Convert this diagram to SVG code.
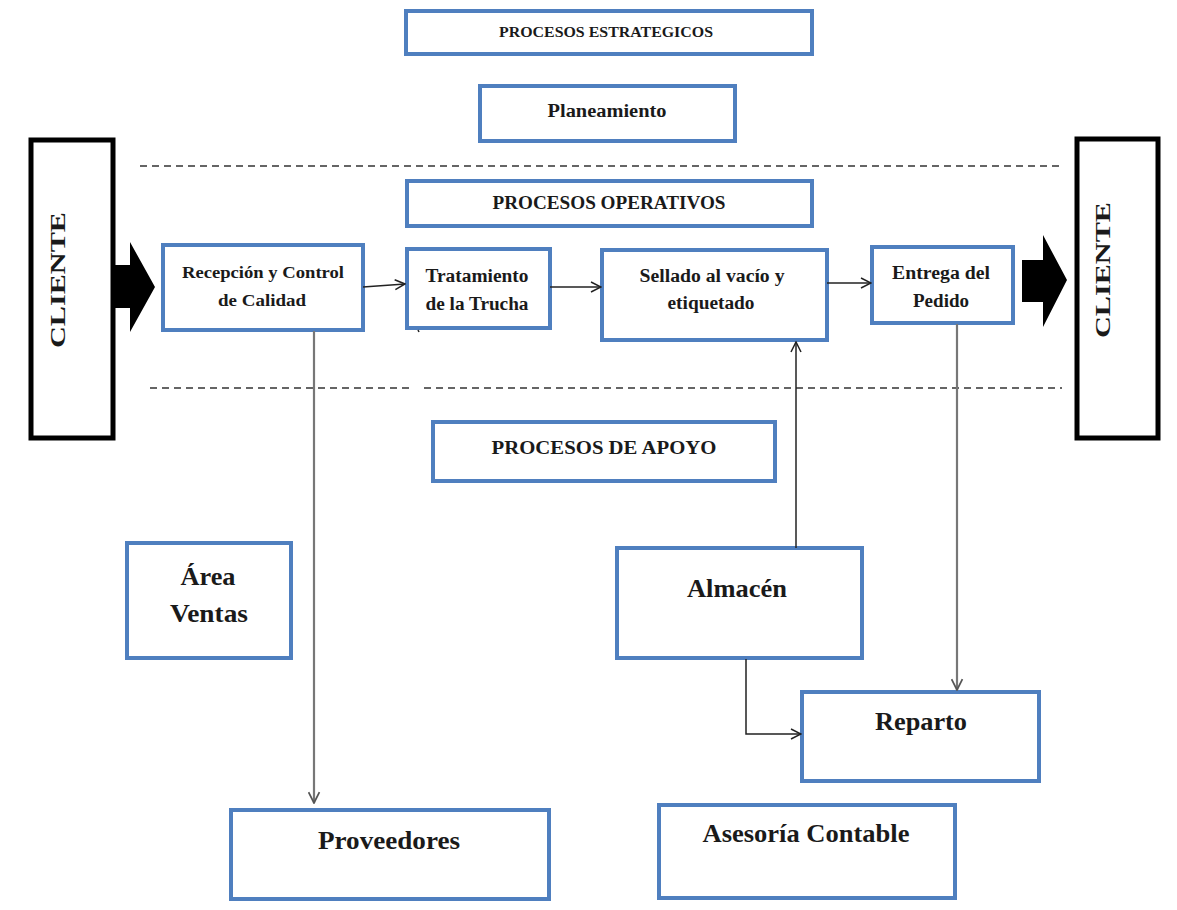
<svg xmlns="http://www.w3.org/2000/svg" width="1177" height="910" viewBox="0 0 1177 910">
  <style>
    .box { fill: #ffffff; stroke: #4f7fbf; stroke-width: 4; }
    .client { fill: #ffffff; stroke: #000000; stroke-width: 5; }
    .t { font-family: "Liberation Serif", "Times New Roman", serif; font-weight: bold; fill: #1a1a1a; text-anchor: middle; dominant-baseline: central; }
    .dash { stroke: #333333; stroke-width: 1.6; stroke-dasharray: 7 5; fill: none; }
    .link { stroke: #222222; stroke-width: 1.5; fill: none; }
    .drop { stroke: #777777; stroke-width: 2.2; fill: none; }
    .big { fill: #000000; }
  </style>
  <defs>
    <marker id="open" viewBox="0 0 12 12" refX="11" refY="6" markerWidth="12" markerHeight="12" markerUnits="userSpaceOnUse" orient="auto">
      <path d="M1,1 L11,6 L1,11" fill="none" stroke="#222222" stroke-width="1.5"/>
    </marker>
    <marker id="openGrey" viewBox="0 0 12 12" refX="11" refY="6" markerWidth="13" markerHeight="13" markerUnits="userSpaceOnUse" orient="auto">
      <path d="M1,1 L11,6 L1,11" fill="none" stroke="#555555" stroke-width="1.6"/>
    </marker>
  </defs>

  <rect width="1177" height="910" fill="#ffffff"/>

  <!-- swimlane separators -->
  <g id="separators">
    <line class="dash" x1="140" y1="166" x2="1062" y2="166"/>
    <line class="dash" x1="150" y1="388" x2="412" y2="388"/>
    <line class="dash" x1="424" y1="388" x2="1062" y2="388"/>
  </g>

  <!-- customer columns and block arrows -->
  <g id="cliente-entrada">
    <rect class="client" x="31" y="140" width="82" height="298"/>
    <text class="t" transform="translate(57 280) rotate(-90)" font-size="22" textLength="136" lengthAdjust="spacingAndGlyphs">CLIENTE</text>
    <path class="big" d="M113,265 L130,265 L130,242 L155,287 L130,332 L130,308 L113,308 Z"/>
  </g>
  <g id="cliente-salida">
    <rect class="client" x="1077" y="139" width="81" height="299"/>
    <text class="t" transform="translate(1102 270) rotate(-90)" font-size="22" textLength="136" lengthAdjust="spacingAndGlyphs">CLIENTE</text>
    <path class="big" d="M1022,260 L1043,260 L1043,235 L1067,280 L1043,327 L1043,302 L1022,302 Z"/>
  </g>

  <!-- strategic processes -->
  <g id="procesos-estrategicos">
    <rect class="box" x="406" y="11" width="406" height="43"/>
    <text class="t" x="606" y="32" font-size="14" textLength="214" lengthAdjust="spacingAndGlyphs">PROCESOS ESTRATEGICOS</text>
  </g>
  <g id="planeamiento">
    <rect class="box" x="480" y="86" width="255" height="55"/>
    <text class="t" x="607" y="111" font-size="18" textLength="119" lengthAdjust="spacingAndGlyphs">Planeamiento</text>
  </g>

  <!-- operational processes -->
  <g id="procesos-operativos">
    <rect class="box" x="407" y="181" width="405" height="45"/>
    <text class="t" x="609" y="203" font-size="18" textLength="233" lengthAdjust="spacingAndGlyphs">PROCESOS OPERATIVOS</text>
  </g>
  <g id="recepcion">
    <rect class="box" x="163" y="245" width="200" height="85"/>
    <text class="t" x="263" y="272" font-size="17" textLength="162" lengthAdjust="spacingAndGlyphs">Recepción y Control</text>
    <text class="t" x="262" y="300" font-size="17" textLength="88" lengthAdjust="spacingAndGlyphs">de Calidad</text>
  </g>
  <g id="tratamiento">
    <rect class="box" x="407" y="249" width="143" height="79"/>
    <text class="t" x="477" y="276" font-size="18" textLength="103" lengthAdjust="spacingAndGlyphs">Tratamiento</text>
    <text class="t" x="477" y="304" font-size="18" textLength="103" lengthAdjust="spacingAndGlyphs">de la Trucha</text>
  </g>
  <g id="sellado">
    <rect class="box" x="602" y="250" width="225" height="90"/>
    <text class="t" x="712" y="276" font-size="18" textLength="145" lengthAdjust="spacingAndGlyphs">Sellado al vacío y</text>
    <text class="t" x="711" y="303" font-size="18" textLength="87" lengthAdjust="spacingAndGlyphs">etiquetado</text>
  </g>
  <g id="entrega">
    <rect class="box" x="872" y="247" width="141" height="76"/>
    <text class="t" x="941" y="273" font-size="18" textLength="98" lengthAdjust="spacingAndGlyphs">Entrega del</text>
    <text class="t" x="941" y="301" font-size="18" textLength="56" lengthAdjust="spacingAndGlyphs">Pedido</text>
  </g>

  <!-- support processes -->
  <g id="procesos-apoyo">
    <rect class="box" x="433" y="422" width="342" height="59"/>
    <text class="t" x="604" y="447" font-size="19" textLength="225" lengthAdjust="spacingAndGlyphs">PROCESOS DE APOYO</text>
  </g>
  <g id="area-ventas">
    <rect class="box" x="127" y="543" width="164" height="115"/>
    <text class="t" x="208" y="576" font-size="25" textLength="55" lengthAdjust="spacingAndGlyphs">Área</text>
    <text class="t" x="209" y="613" font-size="25" textLength="78" lengthAdjust="spacingAndGlyphs">Ventas</text>
  </g>
  <g id="almacen">
    <rect class="box" x="617" y="548" width="245" height="110"/>
    <text class="t" x="737" y="588" font-size="25" textLength="100" lengthAdjust="spacingAndGlyphs">Almacén</text>
  </g>
  <g id="reparto">
    <rect class="box" x="802" y="692" width="237" height="89"/>
    <text class="t" x="921" y="721" font-size="25" textLength="92" lengthAdjust="spacingAndGlyphs">Reparto</text>
  </g>
  <g id="proveedores">
    <rect class="box" x="231" y="810" width="318" height="89"/>
    <text class="t" x="389" y="840" font-size="25" textLength="142" lengthAdjust="spacingAndGlyphs">Proveedores</text>
  </g>
  <g id="asesoria">
    <rect class="box" x="659" y="805" width="296" height="93"/>
    <text class="t" x="806" y="833" font-size="25" textLength="207" lengthAdjust="spacingAndGlyphs">Asesoría Contable</text>
  </g>

  <!-- connectors -->
  <g id="connectors">
    <line class="link" x1="363" y1="287" x2="405" y2="284" marker-end="url(#open)"/>
    <line class="link" x1="550" y1="287" x2="601" y2="287" marker-end="url(#open)"/>
    <line class="link" x1="827" y1="283" x2="871" y2="283" marker-end="url(#open)"/>
    <line class="drop" x1="314" y1="331" x2="314" y2="803" marker-end="url(#openGrey)"/>
    <line class="drop" x1="957" y1="324" x2="957" y2="690" marker-end="url(#openGrey)"/>
    <line class="link" x1="796" y1="548" x2="796" y2="342" marker-end="url(#open)"/>
    <polyline class="link" points="746,659 746,734 801,734" marker-end="url(#open)"/>
    <line x1="418" y1="330" x2="419" y2="332" stroke="#222222" stroke-width="1.5"/>
  </g>
</svg>
